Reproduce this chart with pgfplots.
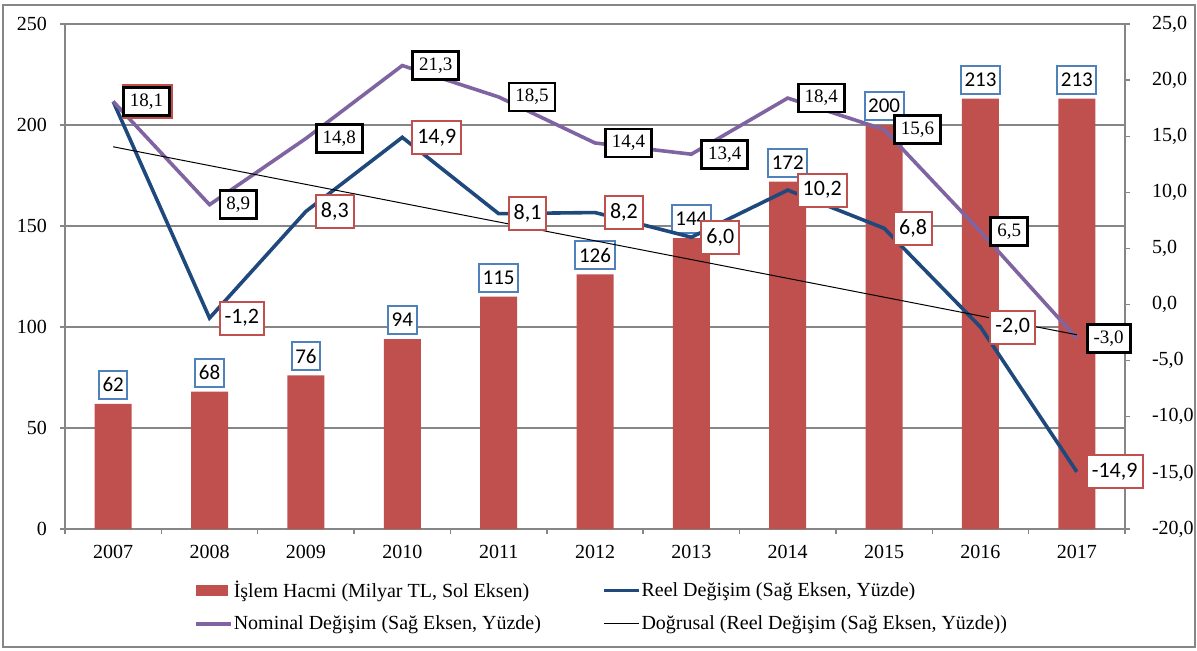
\documentclass[border=0pt]{standalone}
\usepackage{fontspec}
\setmainfont{Liberation Serif}
\newfontfamily\carlito{Carlito}
\newfontfamily\lserif{Liberation Serif}
\usepackage{pgfplots}
\pgfplotsset{compat=1.18}
\definecolor{barred}{RGB}{192,80,77}
\definecolor{reelblue}{RGB}{31,73,125}
\definecolor{nompurple}{RGB}{128,100,162}
\definecolor{boxblue}{RGB}{79,129,189}
\definecolor{gridgray}{RGB}{134,134,134}
\pgfplotsset{
  myline legend/.style={legend image code/.code={\draw[##1] (0pt,0pt) -- (17.5pt,0pt);}},
  mybar legend/.style={legend image code/.code={\fill[barred] (0pt,-2.6pt) rectangle (15.5pt,2.6pt);}},
}
\begin{document}
\begin{tikzpicture}[font=\lserif]
\pgfplotsset{
  base/.style={
    width=530pt, height=252.5pt, scale only axis,
    xmin=-0.5, xmax=10.5,
    /pgf/number format/assume math mode=true,
    tick label style={font=\lserif\fontsize{10}{12}\selectfont},
    axis line style={draw=gridgray, line width=0.7pt},
    tick style={draw=gridgray, line width=0.7pt},
    tick align=outside,
    major tick length=2.5pt,
    minor tick length=2.5pt,
    scaled y ticks=false,
  },
}
\begin{axis}[base,
  ymin=0, ymax=250, ytick={0,50,...,250},
  axis y line*=left, axis x line*=bottom,
  ymajorgrids, major grid style={draw=gridgray, line width=0.7pt},
  xtick={0,...,10},
  xticklabels={2007,2008,2009,2010,2011,2012,2013,2014,2015,2016,2017},
  minor xtick={-0.5,0.5,...,10.5},
  major x tick style={draw=none},
  xticklabel style={yshift=-2pt},
  yticklabel style={xshift=-3pt},
]
\addplot[ybar, bar width=18.5pt, fill=barred, draw=none,
  nodes near coords={\pgfmathprintnumber[fixed,precision=0,assume math mode=true]{\pgfplotspointmeta}},
  every node near coord/.style={anchor=south, yshift=2pt, draw=boxblue, line width=1pt, fill=white, text=black,
    font=\carlito\fontsize{10.5}{12}\selectfont, inner xsep=1.8pt, inner ysep=0pt, minimum height=14pt}]
  coordinates {(0,62)(1,68)(2,76)(3,94)(4,115)(5,126)(6,144)(7,172)(8,200)(9,213)(10,213)};
\end{axis}
\begin{axis}[base,
  ymin=-20, ymax=25, ytick={-20,-15,...,25},
  axis y line*=right, axis x line=none,
  yticklabel style={xshift=7.5pt, /pgf/number format/.cd, fixed, fixed zerofill, precision=1, use comma},
  clip=false,
  legend columns=2,
  legend cell align=left,
  legend style={at={(0.1215,-0.098)}, anchor=north west, draw=none, fill=none, inner sep=0pt,
    font=\lserif\fontsize{10}{12}\selectfont, row sep=5.5pt,
    /tikz/column 1/.style={column sep=0pt},
    /tikz/column 2/.style={column sep=30pt},
    /tikz/column 3/.style={column sep=0pt},
    nodes={inner xsep=0.5pt, inner ysep=1pt}},
]
\addlegendimage{mybar legend}
\addlegendentry{İşlem Hacmi (Milyar TL, Sol Eksen)}
\addplot[reelblue, line width=1.8pt, mark=none, myline legend]
  coordinates {(0,18.1)(1,-1.2)(2,8.3)(3,14.9)(4,8.1)(5,8.2)(6,6.0)(7,10.2)(8,6.8)(9,-2.0)(10,-14.9)};
\addlegendentry{Reel Değişim (Sağ Eksen, Yüzde)}
\addplot[nompurple, line width=1.8pt, mark=none, myline legend]
  coordinates {(0,18.1)(1,8.9)(2,14.8)(3,21.3)(4,18.5)(5,14.4)(6,13.4)(7,18.4)(8,15.6)(9,6.5)(10,-3.0)};
\addlegendentry{Nominal Değişim (Sağ Eksen, Yüzde)}
\addplot[black, line width=0.5pt, mark=none, myline legend]
  coordinates {(0,14.06)(10,-2.69)};
\addlegendentry{Doğrusal (Reel Değişim (Sağ Eksen, Yüzde))}
% labels: reel
\addplot[draw=none, mark=none, forget plot,
  nodes near coords={\pgfmathprintnumber[fixed,fixed zerofill,precision=1,use comma,assume math mode=true]{\pgfplotspointmeta}},
  every node near coord/.style={anchor=west, xshift=4.5pt, draw=barred, line width=1pt, fill=white, text=black,
    font=\carlito\fontsize{11}{13}\selectfont, inner xsep=2.5pt, inner ysep=0pt, minimum height=16.5pt}]
  coordinates {(0,18.1)(1,-1.2)(2,8.3)(3,14.9)(4,8.1)(5,8.2)(6,6.0)(7,10.2)(8,6.8)(9,-2.0)(10,-14.9)};
% labels: nominal
\addplot[draw=none, mark=none, forget plot,
  nodes near coords={\pgfmathprintnumber[fixed,fixed zerofill,precision=1,use comma,assume math mode=true]{\pgfplotspointmeta}},
  every node near coord/.style={anchor=west, xshift=4.5pt, draw=black, line width=1.4pt, fill=white, text=black,
    font=\lserif\fontsize{9.5}{11}\selectfont, inner xsep=3.2pt, inner ysep=0pt, minimum height=14pt}]
  coordinates {(0,18.1)(1,8.9)(2,14.8)(3,21.3)(4,18.5)(5,14.4)(6,13.4)(7,18.4)(8,15.6)(9,6.5)(10,-3.0)};
\end{axis}
\draw[gridgray, line width=1.2pt] (-31pt,-59pt) rectangle (565pt,262pt);
\pgfresetboundingbox
\useasboundingbox (-32.5pt,-60.5pt) rectangle (566pt,264.5pt);
\end{tikzpicture}
\end{document}
